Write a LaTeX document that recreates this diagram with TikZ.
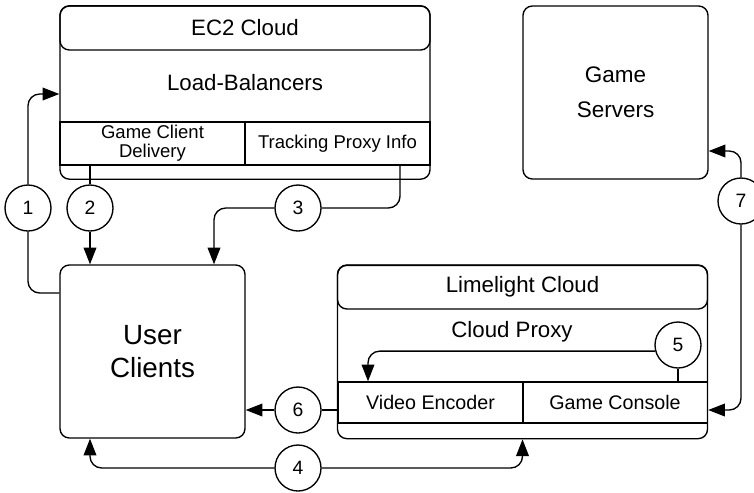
\documentclass[tikz,border=0pt]{standalone}
\usepackage{fontspec}
\setmainfont{Liberation Sans}
\usetikzlibrary{arrows.meta}

\begin{document}
\begin{tikzpicture}[x=0.03cm,y=-0.03cm,line width=1.15pt,
    box/.style={draw,rounded corners=8pt,minimum width=5.55cm,minimum height=5.19cm,inner sep=0pt,align=center},
    cloud/.style={draw,rounded corners=8pt,minimum width=11.1cm,minimum height=5.2cm,inner sep=0pt},
    head/.style={draw,rounded corners=8pt,minimum width=11.1cm,minimum height=1.32cm,inner sep=0pt,font=\fontsize{19}{22}\selectfont},
    cell/.style={draw,minimum width=5.55cm,minimum height=1.29cm,inner sep=0pt,align=center,font=\fontsize{15.8}{16.2}\selectfont},
    num/.style={circle,draw,fill=white,minimum size=1.38cm,inner sep=0pt,font=\fontsize{16.5}{18}\selectfont},
    conn/.style={rounded corners=0.35cm},
    arr/.style={conn,-{Triangle[length=0.5cm,width=0.38cm]}}]

\useasboundingbox (0,0) rectangle (754,492);

\node[cloud] (ec2) at (245,92.5) {};
\node[head] (ec2h) at (245,28) {EC2 Cloud};
\node[font=\fontsize{19}{22}\selectfont] (lb) at (245,83) {Load-Balancers};
\node[cell] (gcd) at (152.5,143.5) {Game Client\\Delivery};
\node[cell] (tpi) at (337.5,143.5) {Tracking Proxy Info};

\node[box,font=\fontsize{19.2}{30}\selectfont] (gs) at (615.5,92.5) {Game\\Servers};
\node[box,font=\fontsize{23.7}{28}\selectfont] (ucl) at (152.5,351.5) {User\\Clients};

\node[cloud] (ll) at (522.5,352) {};
\node[head] (llh) at (522.5,287) {Limelight Cloud};
\node[font=\fontsize{19}{22}\selectfont] (cp) at (512,332) {Cloud Proxy};
\node[cell,minimum height=1.23cm,font=\fontsize{16.8}{18}\selectfont] (ve) at (430.5,402.5) {Video Encoder};
\node[cell,minimum height=1.23cm,font=\fontsize{16.8}{18}\selectfont] (gc) at (615,402.5) {Game Console};

\node[num] (c1) at (28,208) {1};
\node[num] (c2) at (90,208) {2};
\node[num] (c3) at (298,208) {3};
\node[num] (c4) at (298,468) {4};
\node[num] (c5) at (678,345) {5};
\node[num] (c6) at (298,410) {6};
\node[num] (c7) at (741,201) {7};

\draw[conn] (ucl.west |- 0,293) -| (c1);
\draw[arr] (c1) |- (ec2.west |- 0,94);
\draw (gcd.south -| c2) -- (c2);
\draw[arr] (c2) -- (ucl.north -| c2);
\draw[conn] (tpi.south -| 400,0) |- (c3);
\draw[arr] (c3) -| (ucl.north -| 214,0);
\draw[arr] (c4) -| (ucl.south -| c2);
\draw[arr] (c4) -| (ll.south);
\draw (gc.north -| c5) -- (c5);
\draw[arr] (c5.195) -| (ve.north -| 368,0);
\draw (ve.west |- c6) -- (c6);
\draw[arr] (c6) -- (ucl.east |- c6);
\draw[arr] (c7) |- (gs.east |- 0,151);
\draw[arr] (c7) |- (gc.east |- 0,410);
\end{tikzpicture}
\end{document}
